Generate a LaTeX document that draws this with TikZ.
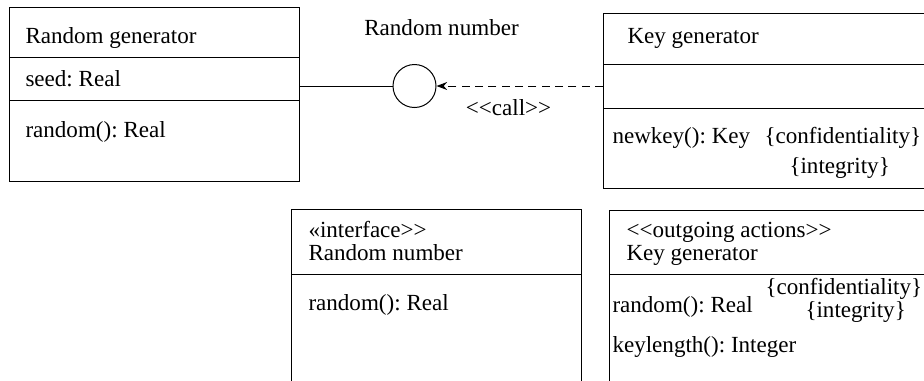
\documentclass[tikz,border=0pt]{standalone}
\usepackage{fontspec}
\setmainfont{Liberation Serif}
\usetikzlibrary{arrows.meta}
\frenchspacing

\tikzset{every picture/.style={line width=0.75pt}}
\tikzset{
  umlbox/.style={draw, rectangle, inner sep=0pt, anchor=north west},
  umltext/.style={inner sep=0.75pt, anchor=base west, font=\fontsize{17.3}{20}\selectfont},
}

\begin{document}
\begin{tikzpicture}[x=0.75pt,y=0.75pt,yscale=-1,xscale=1]
	\useasboundingbox (0,0) rectangle (924,380);

	%Shape: Rectangle [id:rg]
	\node [umlbox, minimum width=217.5pt, minimum height=130.5pt] (rg) at (9,7) {};
	\draw (rg.west |- 0,57) -- (rg.east |- 0,57) ;
	\draw (rg.west |- 0,100) -- (rg.east |- 0,100) ;
	%Shape: Rectangle [id:kg]
	\node [umlbox, minimum width=255pt, minimum height=131.25pt] (kg) at (603,13) {};
	\draw (kg.west |- 0,64) -- (kg.east |- 0,64) ;
	\draw (kg.west |- 0,108) -- (kg.east |- 0,108) ;
	%Shape: Rectangle [id:rnif]
	\node [umlbox, minimum width=217.5pt, minimum height=150pt] (rnif) at (291,209) {};
	\draw (rnif.west |- 0,274) -- (rnif.east |- 0,274) ;
	%Shape: Rectangle [id:kgout]
	\node [umlbox, minimum width=255pt, minimum height=150pt] (kgout) at (609,210) {};
	\draw (kgout.west |- 0,274) -- (kgout.east |- 0,274) ;

	%Shape: Circle [id:rnport]
	\node [circle, draw, minimum size=32.25pt, inner sep=0pt] (rnport) at (414.5,86) {};
	%Straight Lines [id:provide]
	\draw (rg.east |- rnport) -- (rnport.west) ;
	%Straight Lines [id:call]
	\draw [dash pattern=on 6pt off 4pt, -{Stealth[length=8pt,width=6pt]}] (kg.west |- rnport) -- (rnport.east) ;

	% Text Node
	\node [umltext] (rgname) at (24,43) {Random generator};
	\node [umltext] (rgattr) at (24,86) {seed: Real};
	\node [umltext] (rgop) at (24,137) {random(): Real};
	% Text Node
	\node [umltext, anchor=base] (rnlabel) at (441.5,35) {Random number};
	\node [umltext, anchor=base] (calllabel) at (508.5,115) {<\kern0pt<call>\kern0pt>};
	% Text Node
	\node [umltext] (kgname) at (626,43) {Key generator};
	\node [umltext] (kgop) at (611,143) {newkey(): Key};
	\node [umltext] (kgconf) at (763,143) {\{confidentiality\}};
	\node [umltext] (kginteg) at (788,173) {\{integrity\}};
	% Text Node
	\node [umltext] (rnstereo) at (307,237) {«interface>\kern0pt>};
	\node [umltext] (rnname) at (307,260) {Random number};
	\node [umltext] (rnop) at (307,310) {random(): Real};
	% Text Node
	\node [umltext] (kgostereo) at (625,237) {<\kern0pt<outgoing actions>\kern0pt>};
	\node [umltext] (kgoname) at (625,260) {Key generator};
	\node [umltext] (kgoop) at (611,312) {random(): Real};
	\node [umltext] (kgoconf) at (764,294) {\{confidentiality\}};
	\node [umltext] (kgointeg) at (804,317) {\{integrity\}};
	\node [umltext] (kgolen) at (611,352) {keylength(): Integer};

\end{tikzpicture}
\end{document}
